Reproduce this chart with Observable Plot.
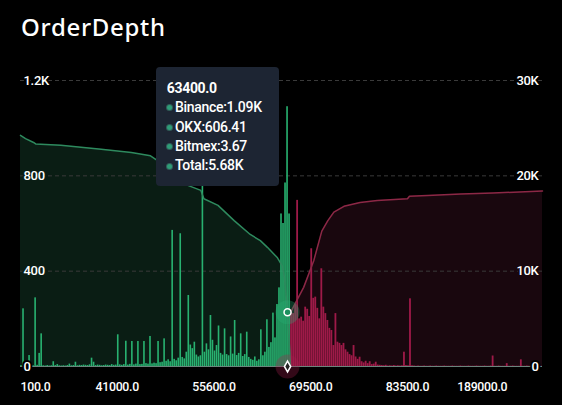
<!DOCTYPE html>
<html><head><meta charset="utf-8">
<script src="https://cdn.jsdelivr.net/npm/d3@7"></script>
<script src="https://cdn.jsdelivr.net/npm/@observablehq/plot@0.6"></script>
<style>
html,body{margin:0;padding:0;background:#000;}
#wrap{position:relative;width:562px;height:405px;overflow:hidden;background:#000;}
#title{position:absolute;left:21px;top:15px;font-family:"Noto Sans",sans-serif;font-size:24px;font-weight:500;line-height:24px;color:#fff;letter-spacing:0.7px;white-space:nowrap;}
#chart{position:absolute;left:0;top:0;}
#tip{position:absolute;left:155.5px;top:67px;width:123px;height:119px;box-sizing:border-box;background:#1d2533;border-radius:4px;padding:11.8px 0 0 11.2px;color:#fff;font-family:Roboto,sans-serif;font-size:14px;font-weight:500;letter-spacing:-0.3px;line-height:19.4px;white-space:nowrap;}
#tip .head{font-weight:700;}
#tip .row{display:flex;align-items:center;}
#tip .dot{width:5px;height:5px;border-radius:50%;background:#2f9d78;box-shadow:0 0 0 1px rgba(90,200,160,0.35);margin:0 2.5px 0 0.8px;}
</style></head>
<body>
<div id="wrap">
  <div id="chart"></div>
  <div id="title"></div>
  <div id="tip"></div>
</div>
<script>
// ---------- data ----------
const chartTitle = "OrderDepth";
const xTickIdx = [0, 48, 96, 144, 192, 240];
const xTickLabels = ["100.0", "41000.0", "55600.0", "69500.0", "83500.0", "189000.0"];
const leftTicks = [0, 400, 800, 1200];
const leftTickLabels = ["0", "400", "800", "1.2K"];
const rightTicks = [0, 10000, 20000, 30000];
const rightTickLabels = ["0", "10K", "20K", "30K"];
const categoryCount = 259;

// bid volumes, category index 0..133
const bidVolumes = [
  4,242,3,2,46,4,3,288,5,55,
  137,3,2,4,2,3,20,4,8,3,
  2,3,2,4,10,3,4,18,3,5,
  4,6,5,4,7,35,18,4,6,5,
  3,4,6,5,4,8,5,6,133,7,
  5,8,106,6,9,105,7,10,105,8,
  9,105,12,10,126,11,14,12,105,16,
  18,116,22,28,20,571,30,24,35,557,
  38,32,60,298,90,75,102,48,40,45,
  780,60,95,70,214,110,65,88,170,55,
  48,158,50,45,124,52,193,46,55,137,
  42,50,144,38,30,26,40,22,28,154,
  45,60,196,80,100,224,120,260,330,640,
  600,770,1090,640
];
// ask volumes, category index 134..258
const askStart = 134;
const askVolumes = [
  230,222,260,697,200,207,190,249,240,210,
  494,286,291,244,200,410,249,222,193,160,
  151,88,222,102,97,88,97,70,60,50,
  45,88,40,30,39,20,15,22,12,20,
  8,10,18,6,5,4,3,5,2,3,
  2,4,2,3,2,3,60,4,3,284,
  3,2,1,2,1,1,2,1,1,2,
  1,1,2,1,1,1,2,1,1,1,
  2,1,1,1,2,1,1,1,2,1,
  1,1,2,1,1,1,2,1,1,2,
  44,1,1,2,1,1,1,12,1,1,
  2,1,1,1,28,1,1,2,1,1,
  1,2,1,1,1
];
// cumulative depth (right axis)
const bidDepthIdx = [0,2.5,6.5,7.5,20,40,55,64.5,68,83,89.5,91,98,106,114,119,122.5,127.5,130,131,132,132.5,134];
const bidDepthVal = [24240,23900,23500,23350,23200,22800,22450,22100,21600,19000,18470,17600,16900,15300,13850,13200,12500,11400,10500,9300,6900,5680,0];
const askDepthIdx = [134,137.5,140.5,145.5,149.5,152.5,155.5,160.5,168.5,177,192,193,202,218.5,234.5,259];
const askDepthVal = [5670,7100,8300,11100,14200,15300,16200,16800,17200,17400,17600,17850,17950,18100,18200,18400];

// hovered category / tooltip
const hoverIdx = 132;
const hoverDepth = 5680;
const tipTitle = "63400.0";
const tipNames = ["Binance", "OKX", "Bitmex", "Total"];
const tipValues = ["1.09K", "606.41", "3.67", "5.68K"];

// ---------- build ----------
const ratio = rightTicks[rightTicks.length-1] / leftTicks[leftTicks.length-1];
const bids = bidVolumes.map((v, i) => ({i, v}));
const asks = askVolumes.map((v, k) => ({i: askStart + k, v}));
const bidDepth = bidDepthIdx.map((i, k) => ({i, v: bidDepthVal[k] / ratio}));
const askDepth = askDepthIdx.map((i, k) => ({i, v: askDepthVal[k] / ratio}));

const C = {
  bidFill: "#0a1d14", askFill: "#19070e",
  bidBar: "#28b170", askBar: "#9e1a48",
  bidLine: "#2e8a5e", askLine: "#8c2846",
  grid: "#3a3a3a", base: "#6b857d"
};
const leftHalo = leftTicks.map(t => (t > 0 && t < bidDepth[0].v) ? C.bidFill : "#000");
const rightHalo = rightTicks.map(t => (t > 0 && t / ratio < askDepth[askDepth.length-1].v) ? C.askFill : "#000");

const font = {fontFamily: "Roboto, sans-serif", fontWeight: 500};

const plot = Plot.plot({
  width: 562, height: 405,
  marginTop: 80, marginBottom: 39, marginLeft: 20, marginRight: 20,
  x: {domain: [0, categoryCount], axis: null},
  y: {domain: [0, leftTicks[leftTicks.length-1]], axis: null},
  style: {background: "transparent", color: "#fff", fontFamily: "Roboto, sans-serif"},
  marks: [
    Plot.areaY(bidDepth, {x: "i", y1: 0, y2: "v", fill: C.bidFill}),
    Plot.areaY(askDepth, {x: "i", y1: 0, y2: "v", fill: C.askFill}),
    Plot.ruleY(leftTicks.slice(1), {stroke: C.grid, strokeDasharray: "4,3"}),
    Plot.rectY(bids, {x1: "i", x2: d => d.i + 1, y1: 0, y2: "v", fill: C.bidBar, insetLeft: 0.2, insetRight: 0.2}),
    Plot.rectY(asks, {x1: "i", x2: d => d.i + 1, y1: 0, y2: "v", fill: C.askBar, insetLeft: 0.1, insetRight: 0.1}),
    Plot.line(bidDepth, {x: "i", y: "v", stroke: C.bidLine, strokeWidth: 1.5}),
    Plot.line(askDepth, {x: "i", y: "v", stroke: C.askLine, strokeWidth: 1.5}),
    Plot.ruleY([0], {stroke: C.base, strokeWidth: 1}),
    // hover markers
    Plot.dot([hoverIdx + 0.5], {x: d => d, y: hoverDepth / ratio, r: 12, fill: "rgba(40,180,120,0.30)", stroke: "none"}),
    Plot.dot([hoverIdx + 0.5], {x: d => d, y: 0, r: 12, fill: "rgba(170,30,80,0.30)", stroke: "none"}),
    Plot.dot([hoverIdx + 0.5], {x: d => d, y: hoverDepth / ratio, r: 3.5, fill: "#1c8f5e", stroke: "#fff", strokeWidth: 1.5}),
    Plot.dot([hoverIdx + 0.5], {x: d => d, y: 0, r: 3.3, symbol: "diamond", fill: "#222", stroke: "#fff", strokeWidth: 1.5}),
    // left axis labels
    Plot.text(leftTicks, {frameAnchor: "left", y: d => d, text: (d, i) => leftTickLabels[i], textAnchor: "start", dx: 3,
      fill: "#fff", stroke: (d, i) => leftHalo[i], strokeWidth: 4, fontSize: 13, ...font}),
    // right axis labels
    Plot.text(rightTicks, {frameAnchor: "right", y: d => d / ratio, text: (d, i) => rightTickLabels[i], textAnchor: "end", dx: -4,
      fill: "#fff", stroke: (d, i) => rightHalo[i], strokeWidth: 4, fontSize: 13, ...font}),
    // x labels
    Plot.text(xTickIdx.slice(0, 1), {x: d => d, frameAnchor: "bottom", dy: 24, text: (d, i) => xTickLabels[0], textAnchor: "start",
      fill: "#fff", fontSize: 12.3, ...font}),
    Plot.text(xTickIdx.slice(1, -1), {x: d => d, frameAnchor: "bottom", dy: 24, text: (d, i) => xTickLabels[i + 1], textAnchor: "middle",
      fill: "#fff", fontSize: 12.3, ...font}),
    Plot.text(xTickIdx.slice(-1), {x: d => d, frameAnchor: "bottom", dy: 24, dx: 3, text: (d, i) => xTickLabels[xTickLabels.length - 1], textAnchor: "end",
      fill: "#fff", fontSize: 12.3, ...font})
  ]
});
plot.querySelectorAll("text").forEach(t => t.setAttribute("letter-spacing", "-0.3"));
document.getElementById("chart").appendChild(plot);
document.getElementById("title").textContent = chartTitle;

const tip = document.getElementById("tip");
const head = document.createElement("div");
head.className = "head"; head.textContent = tipTitle; tip.appendChild(head);
tipNames.forEach((n, k) => {
  const row = document.createElement("div"); row.className = "row";
  const dot = document.createElement("span"); dot.className = "dot";
  const txt = document.createElement("span"); txt.textContent = n + ":" + tipValues[k];
  row.appendChild(dot); row.appendChild(txt); tip.appendChild(row);
});
</script>
</body></html>
